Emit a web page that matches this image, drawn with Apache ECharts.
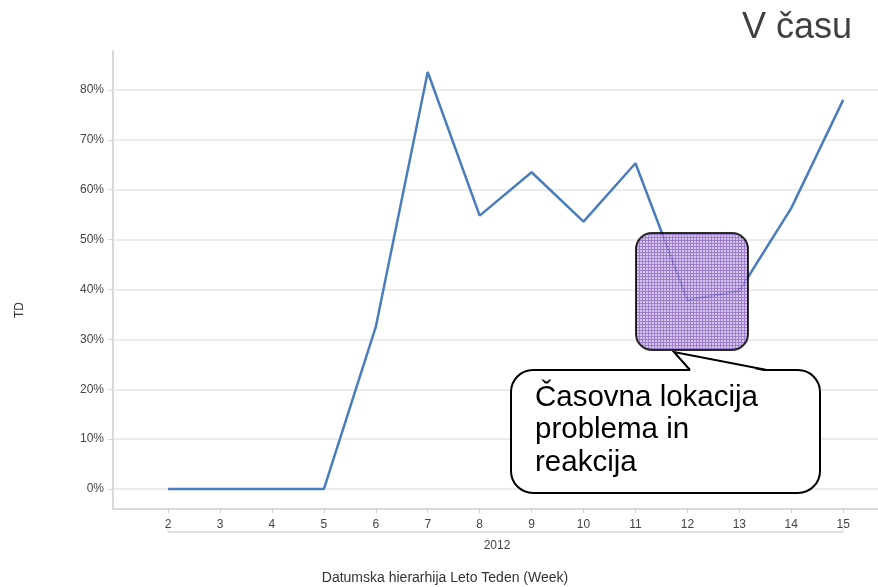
<!DOCTYPE html>
<html>
<head>
<meta charset="utf-8">
<script src="https://cdn.jsdelivr.net/npm/echarts@6/dist/echarts.min.js"></script>
<style>
html,body{margin:0;padding:0;background:#fff;}
#main{width:878px;height:587px;}
</style>
</head>
<body>
<div id="main"></div>
<script>
// Data
const weeks = [2, 3, 4, 5, 6, 7, 8, 9, 10, 11, 12, 13, 14, 15];
const tdValues = [0, 0, 0, 0, 32.5, 83.6, 54.8, 63.5, 53.6, 65.3, 37.9, 39.7, 56.3, 78.0];
const yTicks = [0, 10, 20, 30, 40, 50, 60, 70, 80];
const titleText = 'V času';
const yName = 'TD';
const yearLabel = '2012';
const xName = 'Datumska hierarhija Leto Teden (Week)';
const calloutLines = ['Časovna lokacija', 'problema in', 'reakcija'];

const FONT = 'Arial, "Liberation Sans", sans-serif';

// purple hatch pattern
const pc = document.createElement('canvas');
pc.width = 3; pc.height = 3;
const pctx = pc.getContext('2d');
pctx.fillStyle = '#cdb8e8';
pctx.fillRect(0, 0, 3, 3);
pctx.fillStyle = '#8a64c2';
pctx.fillRect(0, 0, 3, 1);
pctx.fillRect(0, 0, 1, 3);

const chart = echarts.init(document.getElementById('main'), null, {renderer: 'canvas'});

const option = {
  backgroundColor: '#fff',
  animation: false,
  grid: {left: 113, right: 0, top: 51, bottom: 78, containLabel: false},
  xAxis: {
    type: 'value',
    min: 0.94,
    max: 15.67,
    axisLine: {show: true, onZero: false, lineStyle: {color: '#d9d9d9', width: 2}},
    axisTick: {show: true, customValues: weeks, length: 4, lineStyle: {color: '#d0d0d0'}},
    axisLabel: {customValues: weeks, color: '#444', fontSize: 12, margin: 10, fontFamily: FONT},
    splitLine: {show: false}
  },
  yAxis: {
    type: 'value',
    min: -4.0,
    max: 87.8,
    axisLine: {show: true, lineStyle: {color: '#d9d9d9', width: 2}},
    axisTick: {show: true, customValues: yTicks, length: 5, lineStyle: {color: '#d9d9d9'}},
    axisLabel: {customValues: yTicks, formatter: v => v + '%', color: '#444', fontSize: 12, margin: 9, fontFamily: FONT},
    splitLine: {show: true, lineStyle: {color: '#e6e6e6', width: 1.5}}
  },
  series: [{
    type: 'line',
    data: weeks.map((w, i) => [w, tdValues[i]]),
    symbol: 'none',
    lineStyle: {color: '#4a7dbb', width: 2.5},
    z: 3
  }],
  graphic: [
    {type: 'text', x: 852, y: 28, style: {text: titleText, font: '36px ' + FONT, fill: '#404040', textAlign: 'right', textVerticalAlign: 'middle'}},
    {type: 'text', x: 20, y: 310, rotation: Math.PI / 2, style: {text: yName, font: '12px ' + FONT, fill: '#333', textAlign: 'center', textVerticalAlign: 'middle'}},
    {type: 'line', shape: {x1: 168, y1: 532, x2: 843, y2: 532}, style: {stroke: '#d9d9d9', lineWidth: 1.5}},
    {type: 'line', shape: {x1: 168, y1: 527, x2: 168, y2: 532}, style: {stroke: '#d9d9d9', lineWidth: 1}},
    {type: 'line', shape: {x1: 843, y1: 527, x2: 843, y2: 532}, style: {stroke: '#d9d9d9', lineWidth: 1}},
    {type: 'text', x: 497, y: 546, style: {text: yearLabel, font: '12px ' + FONT, fill: '#444', textAlign: 'center', textVerticalAlign: 'middle'}},
    {type: 'text', x: 445, y: 578, style: {text: xName, font: '14px ' + FONT, fill: '#333', textAlign: 'center', textVerticalAlign: 'middle'}},
    {type: 'rect', z: 10, shape: {x: 636, y: 233, width: 112, height: 117, r: 16},
      style: {fill: {image: pc, repeat: 'repeat'}, stroke: '#000', lineWidth: 2, opacity: 0.82}},
    {type: 'rect', z: 10, shape: {x: 511, y: 370, width: 309, height: 123, r: 22},
      style: {fill: '#fff', stroke: '#000', lineWidth: 2}},
    {type: 'polygon', z: 11, shape: {points: [[691, 371.5], [674, 352], [766, 371.5]]},
      style: {fill: '#fff', stroke: null}},
    {type: 'polyline', z: 11, shape: {points: [[690, 370], [674, 352], [767, 370]]},
      style: {fill: null, stroke: '#000', lineWidth: 2}},
    {type: 'text', z: 12, x: 535, y: 398, style: {text: calloutLines[0], font: '29.5px ' + FONT, fill: '#000', textVerticalAlign: 'middle'}},
    {type: 'text', z: 12, x: 535, y: 430, style: {text: calloutLines[1], font: '29.5px ' + FONT, fill: '#000', textVerticalAlign: 'middle'}},
    {type: 'text', z: 12, x: 535, y: 463, style: {text: calloutLines[2], font: '29.5px ' + FONT, fill: '#000', textVerticalAlign: 'middle'}}
  ]
};
chart.setOption(option);
</script>
</body>
</html>
